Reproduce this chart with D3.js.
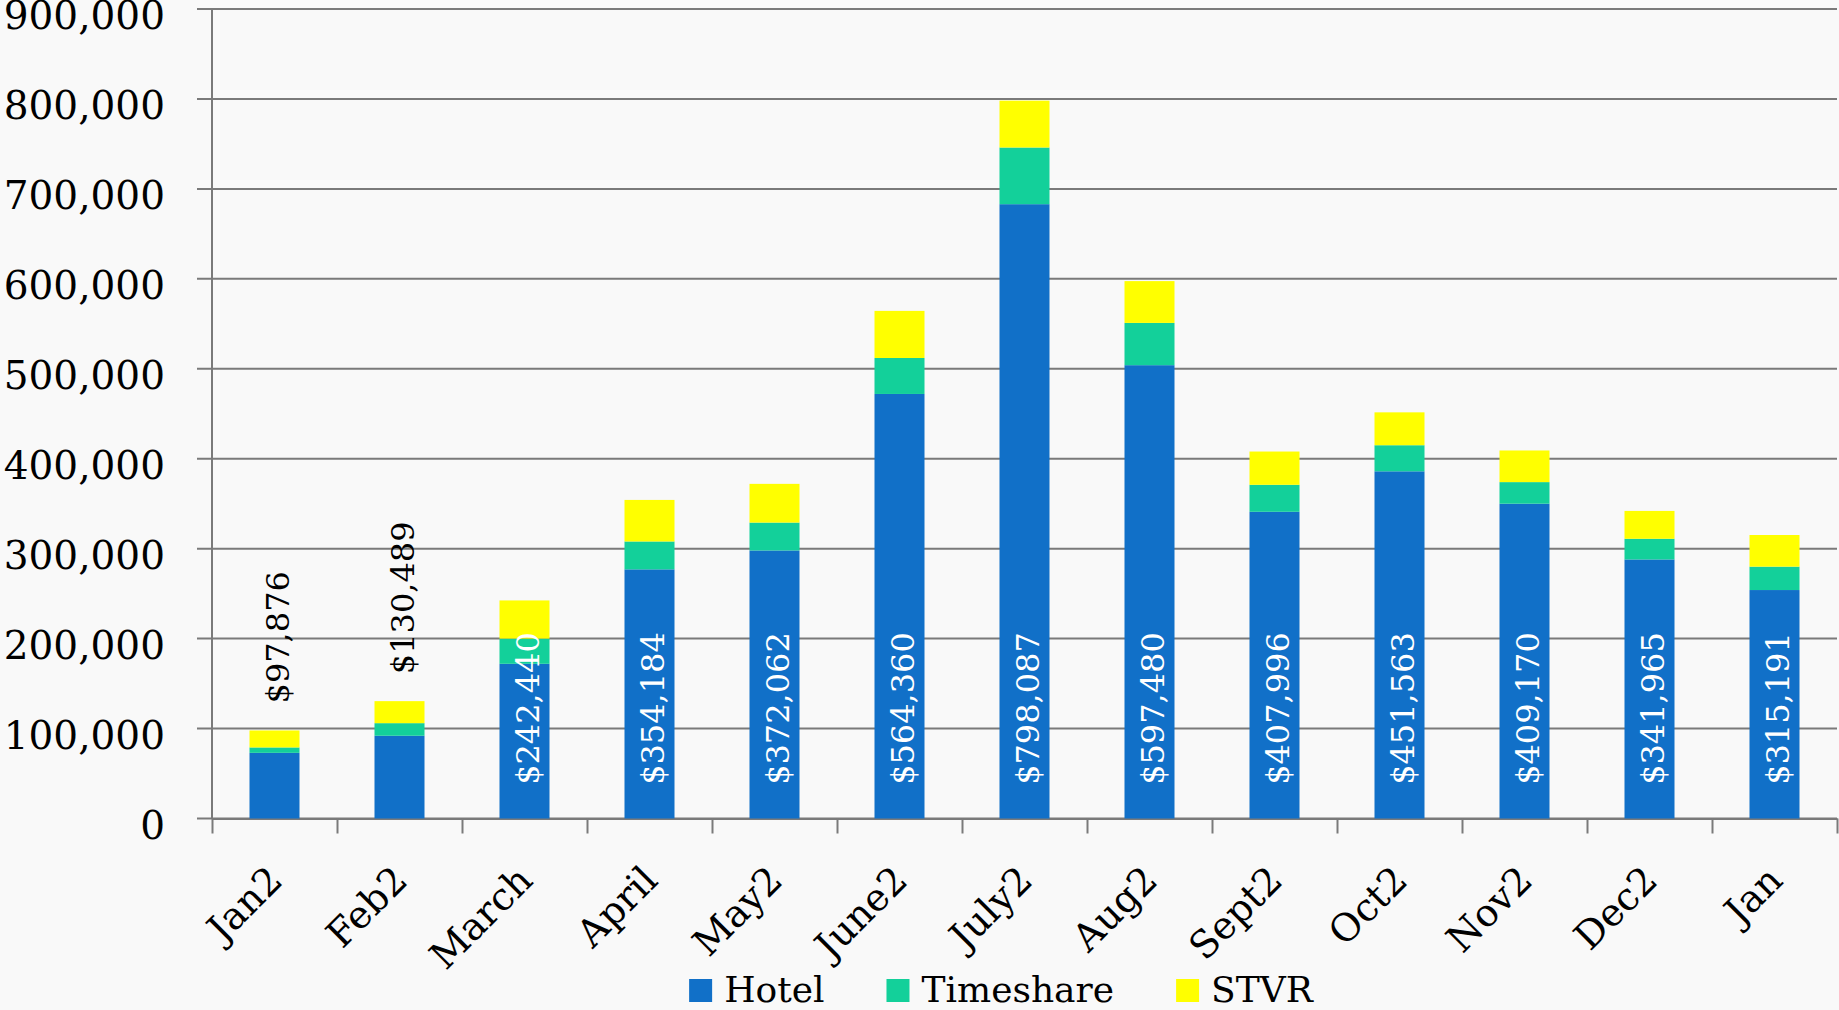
<!DOCTYPE html>
<html>
<head>
<meta charset="utf-8">
<script src="https://cdn.jsdelivr.net/npm/d3@7"></script>
<style>
  body { margin: 0; background: #f9f9f9; }
  svg { display: block; }
</style>
</head>
<body>
<script>
// Data
var months = ["Jan2", "Feb2", "March", "April", "May2", "June2", "July2", "Aug2", "Sept2", "Oct2", "Nov2", "Dec2", "Jan"];
var hotel = [73000, 92000, 172000, 277000, 298000, 472000, 683000, 504000, 341000, 386000, 350000, 288000, 254000];
var timeshare = [6000, 14000, 28000, 31000, 31000, 40000, 63000, 47000, 30000, 29000, 24000, 23000, 26000];
var stvr = [18876, 24489, 42440, 46184, 43062, 52360, 52087, 46480, 36996, 36563, 35170, 30965, 35191];
var totals = [97876, 130489, 242440, 354184, 372062, 564360, 798087, 597480, 407996, 451563, 409170, 341965, 315191];
var yTicks = [0, 100000, 200000, 300000, 400000, 500000, 600000, 700000, 800000, 900000];
var seriesNames = ["Hotel", "Timeshare", "STVR"];
var seriesColors = ["#1170c8", "#13d09a", "#ffff00"];

// Step 1: chart size
var svgWidth = 1839;
var svgHeight = 1010;
var margin = { top: 9, right: 2, bottom: 191.5, left: 212 };
var width = svgWidth - margin.left - margin.right;
var height = svgHeight - margin.top - margin.bottom;
var font = "'DejaVu Serif', serif";
var gridColor = "#7a7a7a";

var svg = d3.select("body").append("svg")
  .attr("width", svgWidth)
  .attr("height", svgHeight);

svg.append("rect").attr("width", svgWidth).attr("height", svgHeight).attr("fill", "#f9f9f9");

var chartGroup = svg.append("g")
  .attr("transform", `translate(${margin.left}, ${margin.top})`);

// Step 2: scales
var xScale = d3.scaleBand()
  .domain(months)
  .range([0, width])
  .paddingInner(0.6)
  .paddingOuter(0.3);

var xTickScale = d3.scaleLinear().domain([0, months.length]).range([0, width]);

var yScale = d3.scaleLinear()
  .domain([0, 900000])
  .range([height, 0]);

// Step 3: gridlines + y labels
chartGroup.append("g")
  .selectAll("line")
  .data(yTicks)
  .enter()
  .append("line")
  .attr("x1", -15)
  .attr("x2", width)
  .attr("y1", d => yScale(d))
  .attr("y2", d => yScale(d))
  .attr("stroke", gridColor)
  .attr("stroke-width", 2);

chartGroup.append("g")
  .selectAll("text")
  .data(yTicks)
  .enter()
  .append("text")
  .attr("x", -47)
  .attr("y", d => yScale(d) + 20)
  .attr("text-anchor", "end")
  .attr("font-family", font)
  .attr("font-size", "39px")
  .attr("fill", "#000")
  .text(d => d3.format(",")(d));

// y axis line
chartGroup.append("line")
  .attr("x1", 0).attr("x2", 0)
  .attr("y1", 0).attr("y2", height)
  .attr("stroke", gridColor)
  .attr("stroke-width", 2);

// x axis with ticks between categories
var bottomAxis = d3.axisBottom(xTickScale)
  .tickValues(d3.range(months.length + 1))
  .tickFormat("")
  .tickSizeInner(15)
  .tickSizeOuter(0);

var xAxisGroup = chartGroup.append("g")
  .attr("transform", `translate(0, ${height})`)
  .call(bottomAxis);
xAxisGroup.selectAll("path, line").attr("stroke", gridColor).attr("stroke-width", 2);

// Step 4: stacked bars
var tableRows = months.map((m, i) => ({ month: m, Hotel: hotel[i], Timeshare: timeshare[i], STVR: stvr[i] }));
var stacked = d3.stack().keys(seriesNames)(tableRows);

chartGroup.append("g")
  .selectAll("g")
  .data(stacked)
  .enter()
  .append("g")
  .attr("fill", (d, i) => seriesColors[i])
  .selectAll("rect")
  .data(d => d)
  .enter()
  .append("rect")
  .attr("x", d => xScale(d.data.month))
  .attr("y", d => yScale(d[1]))
  .attr("width", xScale.bandwidth())
  .attr("height", d => yScale(d[0]) - yScale(d[1]));

// Step 5: total labels, rotated
var labelGroup = chartGroup.append("g");
months.forEach(function(m, i) {
  var cx = xScale(m) + xScale.bandwidth() / 2 + 3;
  var barPx = height - yScale(totals[i]);
  var outside = barPx < 180;
  var ly = outside ? yScale(totals[i]) - 27 : height - 110;
  labelGroup.append("text")
    .attr("transform", `translate(${cx}, ${ly}) rotate(-90)`)
    .attr("text-anchor", outside ? "start" : "middle")
    .attr("dominant-baseline", "central")
    .attr("font-family", font)
    .attr("font-size", "32px")
    .attr("fill", outside ? "#000" : "#fff")
    .text("$" + d3.format(",")(totals[i]));
});

// Step 6: category labels
chartGroup.append("g")
  .selectAll("text")
  .data(months)
  .enter()
  .append("text")
  .attr("transform", d => `translate(${xScale(d) + xScale.bandwidth() / 2 + 10}, ${height + 64}) rotate(-45)`)
  .attr("text-anchor", "end")
  .attr("font-family", font)
  .attr("font-size", "38px")
  .attr("fill", "#000")
  .text(d => d);

// Step 7: legend
var legend = svg.append("g");
var lx = 0;
seriesNames.forEach(function(name, i) {
  legend.append("rect")
    .attr("x", lx).attr("y", 979)
    .attr("width", 23).attr("height", 23)
    .attr("fill", seriesColors[i]);
  var t = legend.append("text")
    .attr("x", lx + 35).attr("y", 1002)
    .attr("font-family", font)
    .attr("font-size", "36px")
    .attr("fill", "#000")
    .text(name);
  lx += 35 + t.node().getComputedTextLength() + 62;
});
var legendWidth = lx - 62;
legend.attr("transform", `translate(${1001 - legendWidth / 2}, 0)`);
</script>
</body>
</html>
